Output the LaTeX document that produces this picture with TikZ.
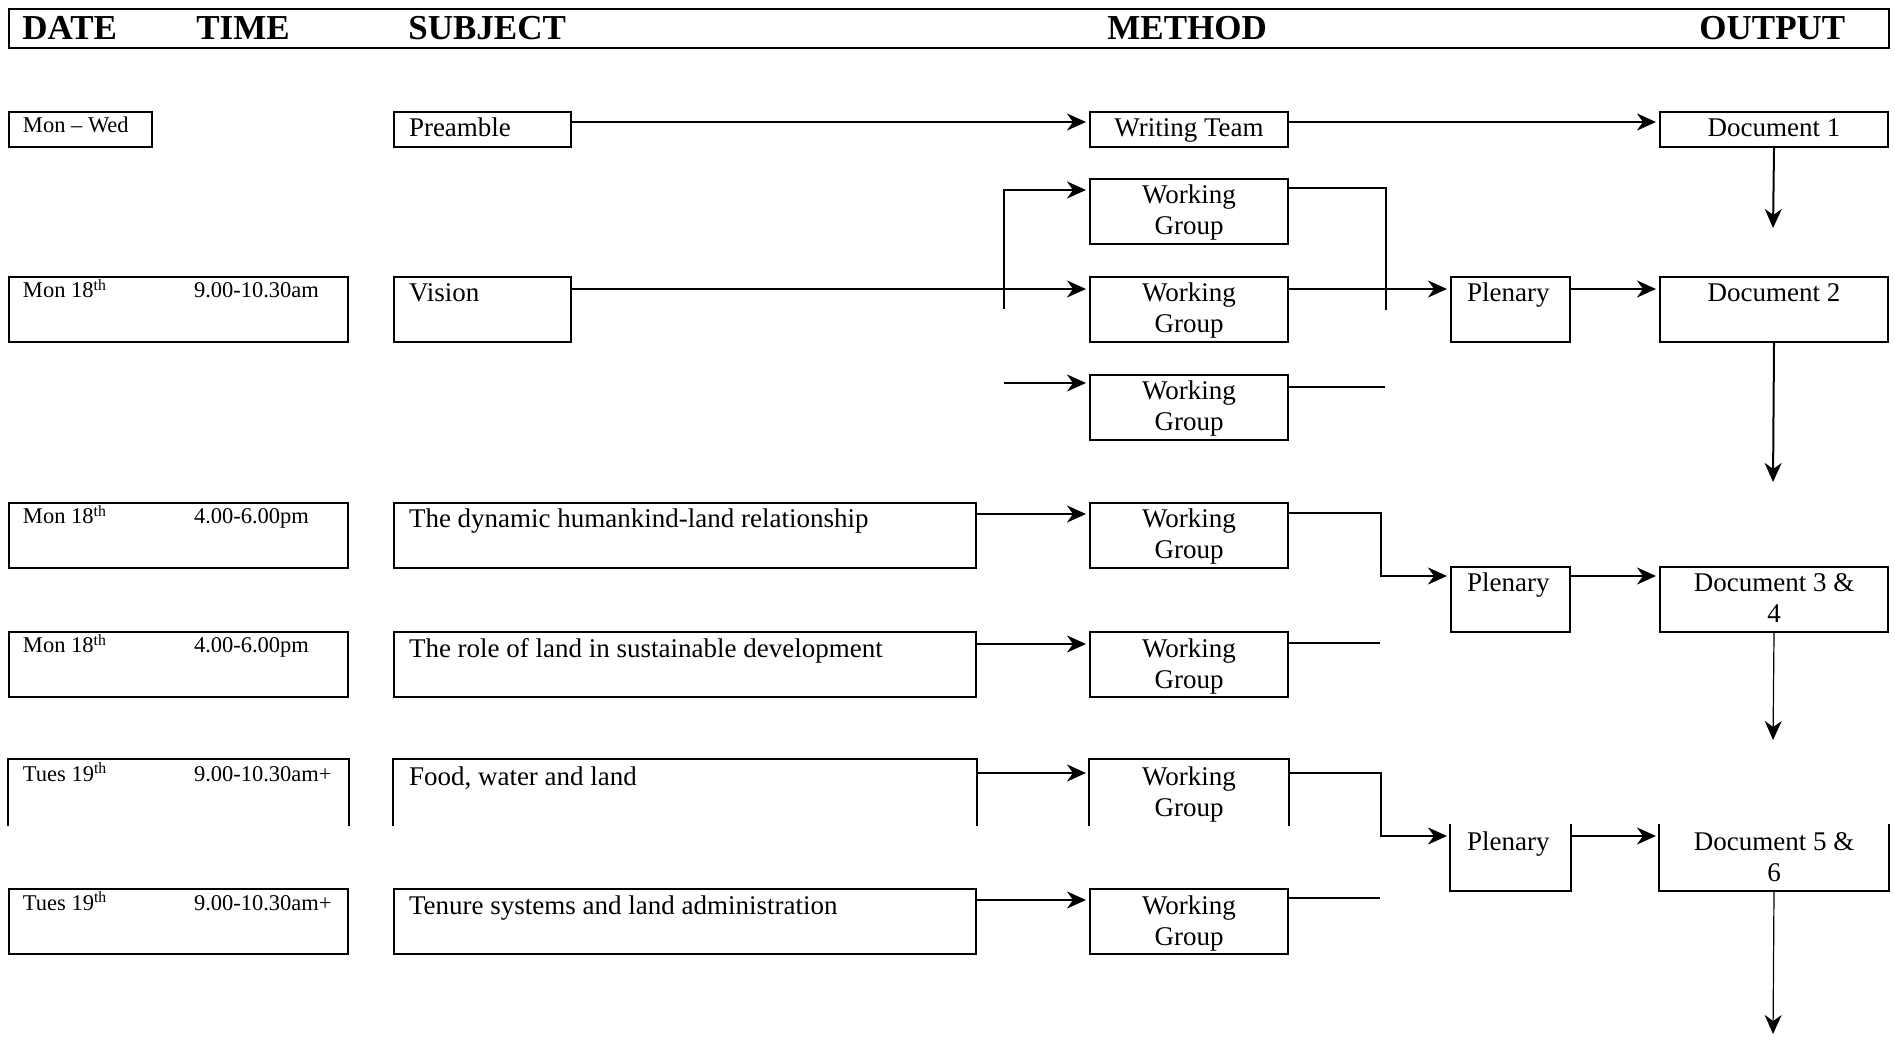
\documentclass[tikz,border=0pt]{standalone}
\usepackage{fontspec}
\setmainfont{Liberation Serif}
\usetikzlibrary{arrows.meta}
\tikzset{%
  cell/.style   = {draw, line width=1pt, anchor=north west,%
                   inner xsep=7.5pt, inner ysep=3.5pt,%
                   text height=9pt, text depth=16.5pt, align=left,%
                   font=\fontsize{13.5}{15.5}\selectfont,%
                   execute at begin node={\spaceskip=0.25em\relax}},%
  slim/.style   = {text depth=1.5pt},%
  when/.style   = {cell, inner xsep=7pt, text height=7pt, text depth=18.5pt,%
                   font=\fontsize{11.25}{13}\selectfont},%
  wgroup/.style = {cell, align=center, text width=84pt},%
  plen/.style   = {cell, inner xsep=8pt, text width=43.5pt},%
  doc/.style    = {cell, align=center, text width=99pt},%
  nobox/.style  = {draw=none},%
  head/.style   = {anchor=base west, inner sep=0pt,%
                   font=\fontsize{17.5}{20}\selectfont\bfseries},%
  flow/.style   = {line width=1pt, -{Stealth[length=9.5pt,width=8.5pt,inset=3pt]},%
                   shorten >=1.5pt},%
  link/.style   = {line width=1pt}%
}

\begin{document}
\begin{tikzpicture}[x=0.5pt,y=-0.5pt]
	\useasboundingbox (0,0) rectangle (1895,1042);
	% header
	\node[draw, line width=1pt, anchor=north west, inner sep=0pt,
		minimum width=940pt, minimum height=19.5pt] (header) at (8,8) {};
	\node[head] (hdate)    at (22,40)   {DATE};
	\node[head] (htime)    at (196,40)  {TIME};
	\node[head] (hsubject) at (408,40)  {SUBJECT};
	\node[head] (hmethod)  at (1107,40) {METHOD};
	\node[head] (houtput)  at (1699,40) {OUTPUT};
	% row 1
	\node[when, text depth=3.5pt, text width=57.5pt] (monwed) at (8,111) {Mon – Wed};
	\node[cell, slim, text width=73.5pt] (preamble) at (393,111) {Preamble};
	\node[wgroup, slim] (wteam) at (1089,111) {Writing Team};
	\node[doc, slim] (doc1) at (1659,111) {Document 1};
	% row 2
	\node[wgroup] (wga) at (1089,178) {Working\\Group};
	\node[when, text width=155.5pt] (date2) at (8,276)
		{\makebox[85.5pt][l]{Mon 18\textsuperscript{th}}9.00-10.30am};
	\node[cell, text width=73.5pt] (vision) at (393,276) {Vision};
	\node[wgroup] (wgb) at (1089,276) {Working\\Group};
	\node[plen] (plen1) at (1450,276) {Plenary};
	\node[doc] (doc2) at (1659,276) {Document 2};
	\node[wgroup] (wgc) at (1089,374) {Working\\Group};
	% row 3
	\node[when, text width=155.5pt] (date3) at (8,502)
		{\makebox[85.5pt][l]{Mon 18\textsuperscript{th}}4.00-6.00pm};
	\node[cell, text width=276pt] (subj3) at (393,502) {The dynamic humankind-land relationship};
	\node[wgroup] (wg3) at (1089,502) {Working\\Group};
	\node[plen] (plen2) at (1450,566) {Plenary};
	\node[doc] (doc34) at (1659,566) {Document 3 \&\\4};
	% row 4
	\node[when, text width=155.5pt] (date4) at (8,631)
		{\makebox[85.5pt][l]{Mon 18\textsuperscript{th}}4.00-6.00pm};
	\node[cell, text width=276pt] (subj4) at (393,631) {The role of land in sustainable development};
	\node[wgroup] (wg4) at (1089,631) {Working\\Group};
	% row 5 (boxes cut at the page break)
	\node[when, nobox, text width=155.5pt] (date5) at (8,759)
		{\makebox[85.5pt][l]{Tues 19\textsuperscript{th}}9.00-10.30am+};
	\node[cell, nobox, text width=276pt] (subj5) at (393,759) {Food, water and land};
	\node[wgroup, nobox] (wg5) at (1089,759) {Working\\Group};
	\node[plen, nobox] (plen3) at (1450,824) {Plenary};
	\node[doc, nobox] (doc56) at (1659,824) {Document 5 \&\\6};
	\foreach \n in {date5,subj5,wg5}
		\draw[link] (\n.south west) |- (\n.north east) -- (\n.south east);
	\foreach \n in {plen3,doc56}
		\draw[link] (\n.north west) |- (\n.south east) -- (\n.north east);
	% row 6
	\node[when, text width=155.5pt] (date6) at (8,888)
		{\makebox[85.5pt][l]{Tues 19\textsuperscript{th}}9.00-10.30am+};
	\node[cell, text width=276pt] (subj6) at (393,888) {Tenure systems and land administration};
	\node[wgroup] (wg6) at (1089,888) {Working\\Group};
	% free ends
	\coordinate (d1end)  at (1773,231);
	\coordinate (fork)   at (1004,309);
	\coordinate (wgcin)  at (1004,383);
	\coordinate (joina)  at (1386,310);
	\coordinate (joinc)  at (1385,387);
	\coordinate (d2end)  at (1773,485);
	\coordinate (join4)  at (1380,643);
	\coordinate (d34end) at (1773,743);
	\coordinate (join6)  at (1380,898);
	\coordinate (d56end) at (1773,1037);
	% connectors
	\draw[flow] ([yshift=-5.5pt]preamble.north east) -- ([yshift=-5.5pt]wteam.north west);
	\draw[flow] ([yshift=-5.5pt]wteam.north east) -- ([yshift=-5.5pt]doc1.north west);
	\draw[flow] (doc1.south) -- (d1end);
	\draw[flow] ([yshift=-6.5pt]vision.north east) -- ([yshift=-6.5pt]wgb.north west);
	\draw[flow] (fork) |- ([yshift=-6pt]wga.north west);
	\draw[flow] (wgcin) -- (wgcin -| wgc.west);
	\draw[link] ([yshift=-5pt]wga.north east) -| (joina);
	\draw[flow] ([yshift=-6.5pt]wgb.north east) -- ([yshift=-6.5pt]plen1.north west);
	\draw[link] ([yshift=-6.5pt]wgc.north east) -- (joinc);
	\draw[flow] ([yshift=-6.5pt]plen1.north east) -- ([yshift=-6.5pt]doc2.north west);
	\draw[flow] (doc2.south) -- (d2end);
	\draw[flow] ([yshift=-6pt]subj3.north east) -- ([yshift=-6pt]wg3.north west);
	\draw[flow] ([yshift=-5.5pt]wg3.north east) -- ++(46pt,0) |- ([yshift=-5pt]plen2.north west);
	\draw[flow] ([yshift=-5pt]plen2.north east) -- ([yshift=-5pt]doc34.north west);
	\draw[flow, line width=0.6pt] (doc34.south) -- (d34end);
	\draw[flow] ([yshift=-6.5pt]subj4.north east) -- ([yshift=-6.5pt]wg4.north west);
	\draw[link] ([yshift=-6pt]wg4.north east) -- (join4);
	\draw[flow] ([yshift=-7pt]subj5.north east) -- ([yshift=-7pt]wg5.north west);
	\draw[flow] ([yshift=-7pt]wg5.north east) -- ++(46pt,0) |- ([yshift=-6pt]plen3.north west);
	\draw[flow] ([yshift=-6pt]plen3.north east) -- ([yshift=-6pt]doc56.north west);
	\draw[flow, line width=0.6pt] (doc56.south) -- (d56end);
	\draw[flow] ([yshift=-6pt]subj6.north east) -- ([yshift=-6pt]wg6.north west);
	\draw[link] ([yshift=-5pt]wg6.north east) -- (join6);
\end{tikzpicture}
\end{document}
